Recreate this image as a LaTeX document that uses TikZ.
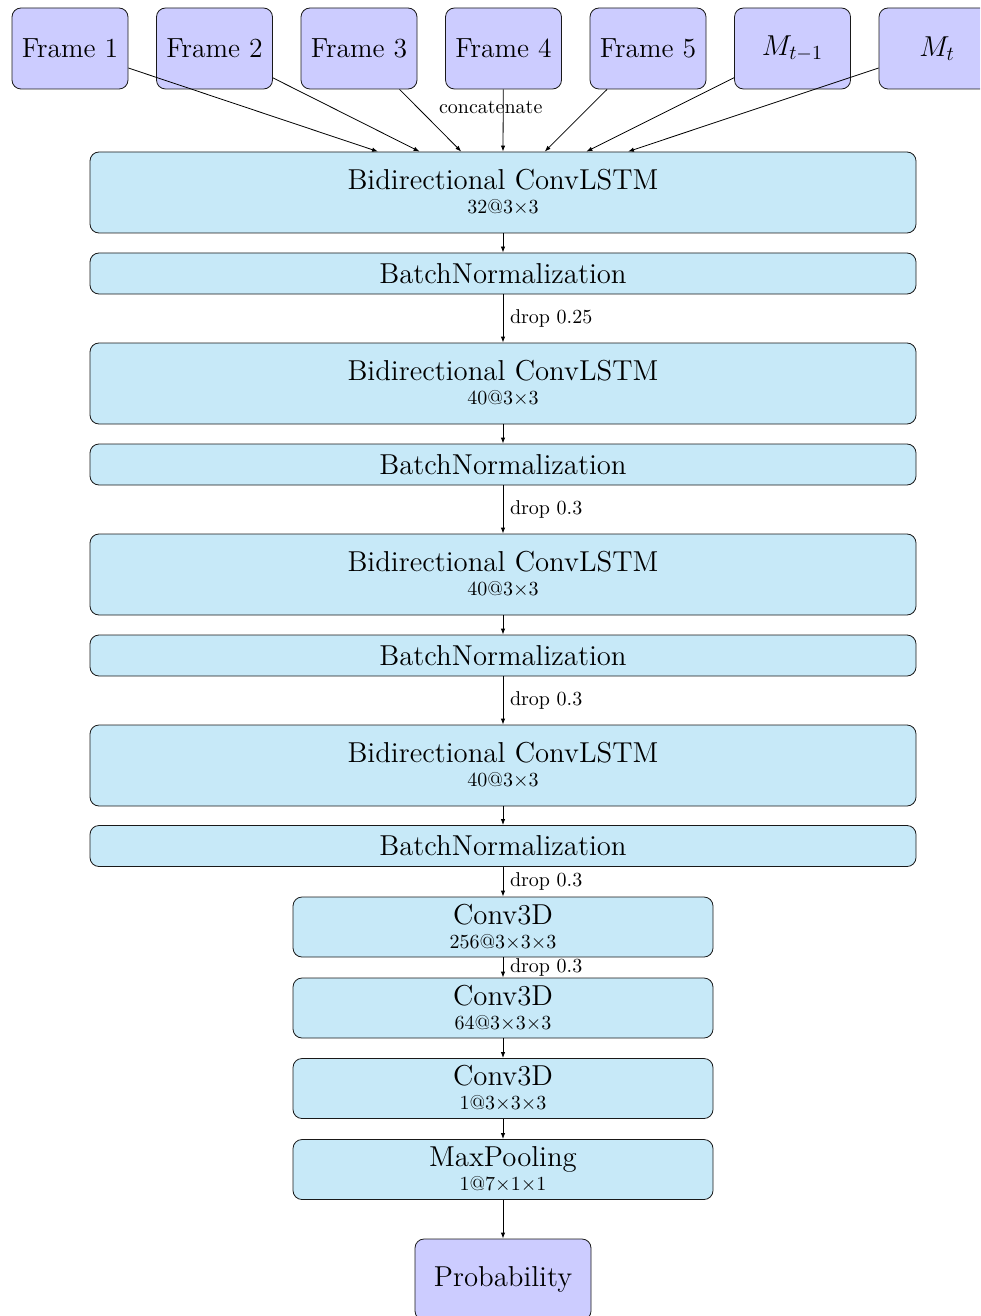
\documentclass[tikz,border=0pt]{standalone}
\usetikzlibrary{arrows.meta,calc}
\definecolor{lcyan}{RGB}{199,233,248}
\definecolor{lpurple}{RGB}{204,204,255}
\begin{document}
\begin{tikzpicture}[x=0.5pt,y=-0.5pt,
  inbox/.style={rounded corners=4.5pt, draw=black!90, fill=lpurple, minimum width=58pt, minimum height=40.5pt, inner sep=0pt, font=\fontsize{13.8}{16}\selectfont},
  layer/.style={rounded corners=4.5pt, draw=black!90, fill=lcyan, minimum width=413pt, minimum height=40.5pt, inner sep=0pt, align=center, font=\Large},
  bnbox/.style={layer, minimum height=20.5pt},
  convbox/.style={layer, minimum width=210pt, minimum height=30pt},
  arr/.style={-{Latex[length=3pt,width=2.2pt]}, draw=black},
  lbl/.style={font=\normalsize, inner sep=3.3pt}
]
\clip (0,0) rectangle (980,1316);

% inputs
\node[inbox] (f1) at (70,48.5) {Frame 1};
\node[inbox] (f2) at (214.5,48.5) {Frame 2};
\node[inbox] (f3) at (359,48.5) {Frame 3};
\node[inbox] (f4) at (503.5,48.5) {Frame 4};
\node[inbox] (f5) at (648,48.5) {Frame 5};
\node[inbox, font=\Large] (m1) at (792.5,48.5) {$M_{t-1}$};
\node[inbox, font=\Large] (m0) at (937,48.5) {$M_t$};

% layers
\node[layer] (bc1) at (503,192.5) {Bidirectional ConvLSTM\\[-6pt]{\normalsize 32@3$\times$3}};
\node[bnbox] (bn1) at (503,273.5) {BatchNormalization};
\node[layer] (bc2) at (503,383.5) {Bidirectional ConvLSTM\\[-6pt]{\normalsize 40@3$\times$3}};
\node[bnbox] (bn2) at (503,464.5) {BatchNormalization};
\node[layer] (bc3) at (503,574.5) {Bidirectional ConvLSTM\\[-6pt]{\normalsize 40@3$\times$3}};
\node[bnbox] (bn3) at (503,655.5) {BatchNormalization};
\node[layer] (bc4) at (503,765.5) {Bidirectional ConvLSTM\\[-6pt]{\normalsize 40@3$\times$3}};
\node[bnbox] (bn4) at (503,846) {BatchNormalization};
\node[convbox] (c1) at (503,927) {Conv3D\\[-6pt]{\normalsize 256@3$\times$3$\times$3}};
\node[convbox] (c2) at (503,1008) {Conv3D\\[-6pt]{\normalsize 64@3$\times$3$\times$3}};
\node[convbox] (c3) at (503,1088.5) {Conv3D\\[-6pt]{\normalsize 1@3$\times$3$\times$3}};
\node[convbox] (mp) at (503,1169.5) {MaxPooling\\[-6pt]{\normalsize 1@7$\times$1$\times$1}};
\node[inbox, minimum width=88pt, font=\Large] (pr) at (503,1279.5) {Probability};

% input targets on top of the first layer
\coordinate (t1) at ($(bc1.north)+(-125,0)$);
\coordinate (t2) at ($(bc1.north)+(-83.4,0)$);
\coordinate (t3) at ($(bc1.north)+(-41.7,0)$);
\coordinate (t4) at ($(bc1.north)+(0,0)$);
\coordinate (t5) at ($(bc1.north)+(41.7,0)$);
\coordinate (t6) at ($(bc1.north)+(83.4,0)$);
\coordinate (t7) at ($(bc1.north)+(125,0)$);

\draw[arr] (f1) -- (t1);
\draw[arr] (f2) -- (t2);
\draw[arr] (f3) -- (t3);
\draw[arr] (f4) -- node[lbl, pos=0.29, xshift=-6.25pt] {concatenate} (t4);
\draw[arr] (f5) -- (t5);
\draw[arr] (m1) -- (t6);
\draw[arr] (m0) -- (t7);

\draw[arr] (bc1) -- (bn1);
\draw[arr] (bn1) -- node[lbl, midway, right] {drop 0.25} (bc2);
\draw[arr] (bc2) -- (bn2);
\draw[arr] (bn2) -- node[lbl, midway, right] {drop 0.3} (bc3);
\draw[arr] (bc3) -- (bn3);
\draw[arr] (bn3) -- node[lbl, midway, right] {drop 0.3} (bc4);
\draw[arr] (bc4) -- (bn4);
\draw[arr] (bn4) -- node[lbl, midway, right] {drop 0.3} (c1);
\draw[arr] (c1) -- node[lbl, midway, right] {drop 0.3} (c2);
\draw[arr] (c2) -- (c3);
\draw[arr] (c3) -- (mp);
\draw[arr] (mp) -- (pr);
\end{tikzpicture}
\end{document}
